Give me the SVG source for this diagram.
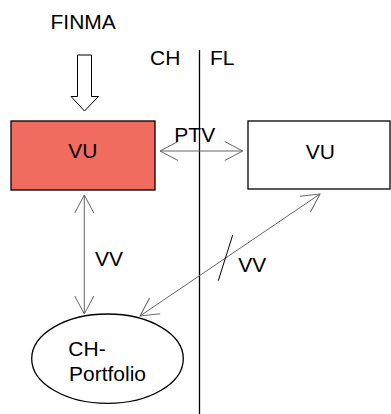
<svg xmlns="http://www.w3.org/2000/svg" width="391" height="414" viewBox="0 0 391 414">
<style>
text{font-family:"Liberation Sans",Arial,sans-serif;font-size:21px;fill:#000}
.box{stroke:#000;stroke-width:1.3}
.con{fill:none;stroke:#666;stroke-width:1}
.ah{fill:none;stroke:#666;stroke-width:1}
</style>
<defs>
<marker id="oa" viewBox="-20 -12 22 24" markerWidth="22" markerHeight="24" refX="0" refY="0" markerUnits="userSpaceOnUse" orient="auto-start-reverse" overflow="visible">
<path class="ah" d="M-18,-9.5 L0,0 L-18,9.5"/>
</marker>
</defs>
<rect width="391" height="414" fill="#fff"/>
<g id="labels">
<text x="50.5" y="29">FINMA</text>
<text x="150" y="65">CH</text>
<text x="210" y="65">FL</text>
</g>
<line id="border" x1="199.5" y1="50" x2="199.5" y2="414" stroke="#000" stroke-width="1.3"/>
<g id="finma-arrow">
<path d="M77.5,55 H91.5 V96.5 H98.5 L84.5,111 L71,96.5 H77.5 Z" fill="#fff" stroke="#000" stroke-width="1"/>
</g>
<g id="vu-ch">
<rect class="box" x="11" y="121" width="144" height="69" fill="#F26B5F"/>
<text x="68.3" y="158.3">VU</text>
</g>
<g id="vu-fl">
<rect class="box" x="248" y="121" width="142" height="68" fill="#fff"/>
<text x="305.7" y="159.3">VU</text>
</g>
<g id="portfolio">
<ellipse class="box" cx="107.5" cy="358.7" rx="75.8" ry="44.7" fill="#fff" stroke-width="1"/>
<text x="68.3" y="355.7">CH-</text>
<text x="69" y="380.7">Portfolio</text>
</g>
<g id="connectors">
<line class="con" x1="160" y1="151" x2="242.7" y2="151" marker-start="url(#oa)" marker-end="url(#oa)"/>
<line class="con" x1="84.3" y1="195" x2="84.3" y2="314" marker-start="url(#oa)" marker-end="url(#oa)"/>
<line class="con" x1="320" y1="194" x2="140" y2="316" marker-start="url(#oa)" marker-end="url(#oa)"/>
<line x1="232.7" y1="235" x2="218.3" y2="280.7" stroke="#000" stroke-width="1"/>
<text x="174.3" y="141.7">PTV</text>
<text x="95" y="266">VV</text>
<text x="238.3" y="272.3">VV</text>
</g>
</svg>
